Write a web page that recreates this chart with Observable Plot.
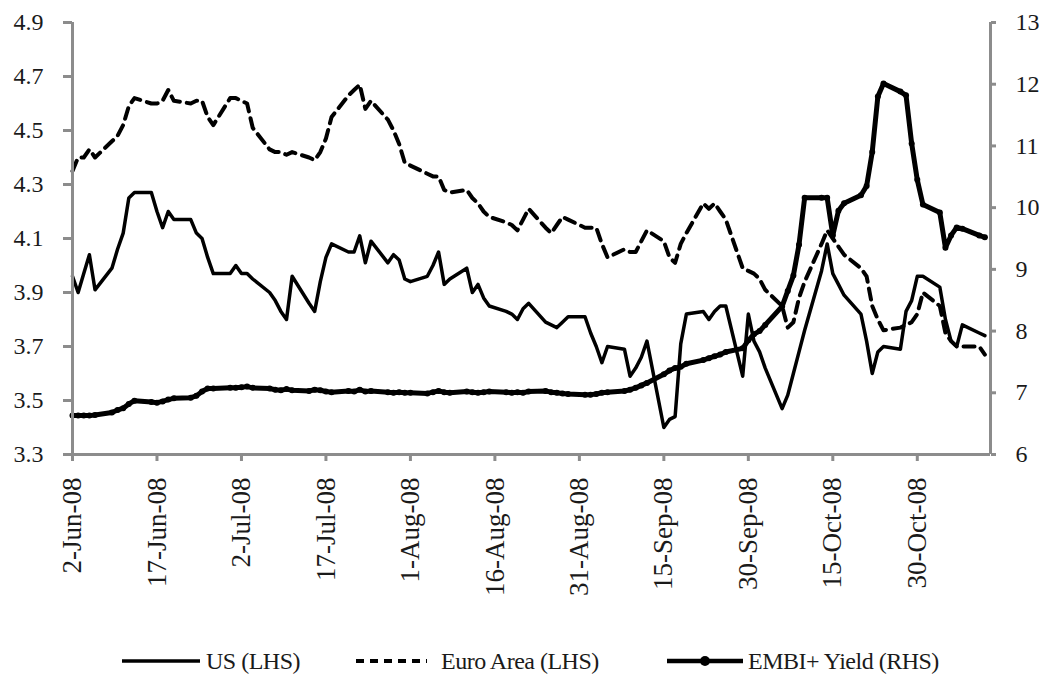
<!DOCTYPE html>
<html><head><meta charset="utf-8">
<script src="https://cdn.jsdelivr.net/npm/d3@7"></script>
<script src="https://cdn.jsdelivr.net/npm/@observablehq/plot@0.6"></script>
<style>
body{margin:0;background:#fff;font-family:"Liberation Serif","Times New Roman",serif;}
#wrap{position:relative;width:1039px;height:675px;overflow:hidden;}
.sw{position:absolute;top:648px;}
.lt{position:absolute;top:645px;font-size:24px;line-height:32px;color:#1a1a1a;white-space:nowrap;letter-spacing:-0.5px;}
</style></head><body><div id="wrap"></div>
<script>
// Trading days 2 Jun 2008 – 11 Nov 2008 (weekdays)
const dates = d3.utcDays(new Date("2008-06-02"), new Date("2008-11-12")).filter(d => d.getUTCDay() % 6 !== 0);

// US 10y yield (LHS)
const usJun = [3.96,3.90,3.97,4.04,3.91, 3.99,4.06,4.12,4.25,4.27, 4.27,4.20,4.14,4.20,4.17, 4.17,4.12,4.10,4.03,3.97, 3.97];
const usJul = [4.00,3.97,3.97,3.95, 3.90,3.87,3.83,3.80,3.96, 3.86,3.83,3.94,4.03,4.08, 4.05,4.05,4.11,4.01,4.09, 4.01,4.04,4.02,3.95];
const usAug = [3.94, 3.96,4.00,4.05,3.93,3.95, 3.99,3.90,3.93,3.88,3.85, 3.83,3.82,3.80,3.84,3.86, 3.79,3.78,3.77,3.79,3.81];
const usSep = [3.81,3.75,3.70,3.64,3.70, 3.69,3.59,3.62,3.66,3.72, 3.40,3.43,3.44,3.71,3.82, 3.83,3.80,3.83,3.85,3.85, 3.59,3.82];
const usOct = [3.72,3.68,3.62, 3.47,3.52,3.60,3.68,3.76, 3.98,4.08,3.97,3.93,3.89, 3.82,3.72,3.60,3.68,3.70, 3.69,3.83,3.87,3.96,3.96];
const usNov = [3.92,3.80,3.72,3.70,3.78, 3.75,3.74];

// Euro Area 10y yield (LHS)
const euJun = [4.35,4.40,4.40,4.43,4.40, 4.46,4.48,4.52,4.59,4.62, 4.60,4.60,4.61,4.65,4.61, 4.60,4.61,4.61,4.55,4.52, 4.62];
const euJul = [4.62,4.61,4.60,4.51, 4.43,4.42,4.42,4.41,4.42, 4.40,4.39,4.42,4.47,4.55, 4.63,4.65,4.67,4.58,4.61, 4.54,4.50,4.45,4.38];
const euAug = [4.37, 4.34,4.33,4.33,4.28,4.27, 4.28,4.25,4.23,4.20,4.18, 4.16,4.15,4.13,4.17,4.21, 4.14,4.12,4.15,4.18,4.17];
const euSep = [4.14,4.14,4.14,4.08,4.03, 4.06,4.05,4.05,4.09,4.13, 4.09,4.03,4.01,4.08,4.12, 4.23,4.21,4.23,4.20,4.17, 3.99,3.98];
const euOct = [3.97,3.95,3.91, 3.85,3.77,3.79,3.88,3.94, 4.08,4.13,4.10,4.07,4.04, 3.99,3.96,3.85,3.80,3.76, 3.77,3.78,3.79,3.82,3.90];
const euNov = [3.85,3.75,3.72,3.70,3.70, 3.70,3.67];

// EMBI+ yield (RHS)
const emJun = [6.63,6.63,6.63,6.63,6.64, 6.68,6.72,6.75,6.82,6.87, 6.85,6.84,6.86,6.89,6.91, 6.92,6.95,7.02,7.07,7.07, 7.08];
const emJul = [7.08,7.09,7.10,7.08, 7.07,7.05,7.04,7.06,7.04, 7.03,7.05,7.04,7.02,7.01, 7.03,7.02,7.05,7.02,7.03, 7.01,7.00,7.01,7.00];
const emAug = [7.00, 6.99,7.01,7.03,7.01,7.00, 7.02,7.01,7.00,7.01,7.02, 7.01,7.00,7.01,7.00,7.02, 7.03,7.01,7.00,6.99,6.98];
const emSep = [6.97,6.97,6.98,7.00,7.01, 7.03,7.05,7.08,7.12,7.16, 7.30,7.36,7.40,7.42,7.47, 7.53,7.56,7.59,7.62,7.66, 7.72,7.85];
const emOct = [7.95,8.00,8.10, 8.40,8.65,8.90,9.40,10.16, 10.16,10.16,9.55,9.95,10.07, 10.20,10.35,10.90,11.80,12.01, 11.88,11.82,11.04,10.45,10.05];
const emNov = [9.92,9.35,9.55,9.68,9.66, 9.55,9.52];

const us = [...usJun, ...usJul, ...usAug, ...usSep, ...usOct, ...usNov];
const euro = [...euJun, ...euJul, ...euAug, ...euSep, ...euOct, ...euNov];
const embi = [...emJun, ...emJul, ...emAug, ...emSep, ...emOct, ...emNov];
if (us.length !== dates.length || euro.length !== dates.length || embi.length !== dates.length)
  throw new Error(`length mismatch dates=${dates.length} us=${us.length} euro=${euro.length} embi=${embi.length}`);

const leftTicks = [3.3, 3.5, 3.7, 3.9, 4.1, 4.3, 4.5, 4.7, 4.9];
const rightTicks = [6, 7, 8, 9, 10, 11, 12, 13];
const xTickDates = ["2008-06-02","2008-06-17","2008-07-02","2008-07-17","2008-08-01","2008-08-16","2008-08-31","2008-09-15","2008-09-30","2008-10-15","2008-10-30"];
const xTickLabels = ["2-Jun-08","17-Jun-08","2-Jul-08","17-Jul-08","1-Aug-08","16-Aug-08","31-Aug-08","15-Sep-08","30-Sep-08","15-Oct-08","30-Oct-08"];
const seriesNames = ["US (LHS)", "Euro Area (LHS)", "EMBI+ Yield (RHS)"];

const yMin = 3.3, yMax = 4.9, rMin = 6, rMax = 13;
const toL = v => yMin + (v - rMin) * (yMax - yMin) / (rMax - rMin);
const toR = v => rMin + (v - yMin) * (rMax - rMin) / (yMax - yMin);

const data = dates.map((d, i) => ({date: d, us: us[i], euro: euro[i], embi: toL(embi[i])}));
const xStart = new Date("2008-06-02"), xEnd = new Date("2008-11-12");
const tickDates = xTickDates.map(s => new Date(s));
const labelOf = d => xTickLabels[tickDates.findIndex(t => +t === +d)];

const axisGrey = "#8c8c8c";
const chart = Plot.plot({
  width: 1039, height: 630,
  marginLeft: 72, marginRight: 49, marginTop: 22, marginBottom: 176,
  style: {fontFamily: "'Liberation Serif','Times New Roman',serif", fontSize: "24px", color: "#1a1a1a", background: "#fff"},
  x: {type: "utc", domain: [xStart, xEnd]},
  y: {domain: [yMin, yMax]},
  marks: [
    Plot.line(data, {x: "date", y: "euro", stroke: "#000", strokeWidth: 4, strokeDasharray: "11,7"}),
    Plot.line(data, {x: "date", y: "us", stroke: "#000", strokeWidth: 3.5}),
    Plot.line(data, {x: "date", y: "embi", stroke: "#000", strokeWidth: 5}),
    Plot.dot(data, {x: "date", y: "embi", r: 3, fill: "#000"}),
    Plot.ruleX([xStart], {stroke: axisGrey, strokeWidth: 3}),
    Plot.ruleX([xEnd], {stroke: axisGrey, strokeWidth: 3}),
    Plot.ruleY([yMin], {stroke: axisGrey, strokeWidth: 3}),
    Plot.axisY({ticks: leftTicks, tickFormat: d3.format(".1f"), tickSize: 9, tickPadding: 20, stroke: axisGrey, strokeWidth: 3, fill: "#1a1a1a", label: null}),
    Plot.axisY({anchor: "right", ticks: rightTicks.map(toL), tickFormat: v => String(Math.round(toR(v))), tickSize: 5, tickPadding: 20, stroke: axisGrey, strokeWidth: 3, fill: "#1a1a1a", label: null}),
    Plot.axisX({ticks: tickDates, tickFormat: labelOf, tickRotate: -90, tickSize: 7, tickPadding: 16, fontSize: 27, stroke: axisGrey, strokeWidth: 3, fill: "#1a1a1a", label: null})
  ]
});
const wrap = document.getElementById("wrap");
wrap.appendChild(chart);

// Legend
const legendItems = [
  {name: seriesNames[0], sx: 122, sw: 78, tx: 206, dash: null, dot: false, w: 3.5},
  {name: seriesNames[1], sx: 356, sw: 71, tx: 441, dash: "8,6", dot: false, w: 4},
  {name: seriesNames[2], sx: 667, sw: 76, tx: 748, dash: null, dot: true, w: 4.5}
];
for (const it of legendItems) {
  const svg = d3.create("svg").attr("class", "sw").attr("width", it.sw).attr("height", 26)
    .style("left", it.sx + "px");
  svg.append("line").attr("x1", 0).attr("x2", it.sw).attr("y1", 13).attr("y2", 13)
    .attr("stroke", "#000").attr("stroke-width", it.w).attr("stroke-dasharray", it.dash);
  if (it.dot) svg.append("circle").attr("cx", it.sw / 2).attr("cy", 13).attr("r", 5).attr("fill", "#000");
  wrap.appendChild(svg.node());
  const t = document.createElement("div");
  t.className = "lt"; t.style.left = it.tx + "px"; t.textContent = it.name;
  wrap.appendChild(t);
}
</script></body></html>
